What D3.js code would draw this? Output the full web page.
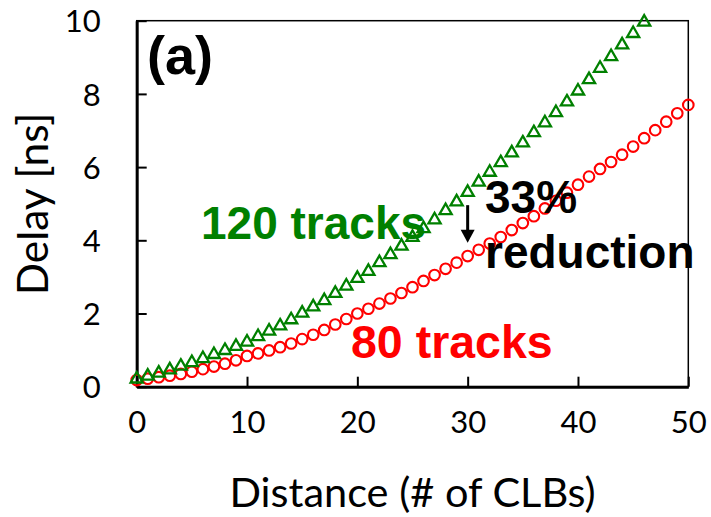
<!DOCTYPE html>
<html>
<head>
<meta charset="utf-8">
<script src="https://cdn.jsdelivr.net/npm/d3@7"></script>
<style>
  body { margin: 0; background: #fff; }
  svg { display: block; }
</style>
</head>
<body>
<div id="chart"></div>
<script>
// data
const distance = d3.range(0, 51)
const delay80 = [0.18, 0.22, 0.26, 0.30, 0.35, 0.41, 0.48, 0.55, 0.63, 0.72,
  0.84, 0.91, 0.99, 1.08, 1.18, 1.30, 1.42, 1.55, 1.70, 1.85,
  2.00, 2.13, 2.27, 2.41, 2.56, 2.72, 2.89, 3.05, 3.22, 3.39,
  3.57, 3.74, 3.91, 4.09, 4.28, 4.47, 4.66, 4.87, 5.08, 5.30,
  5.52, 5.74, 5.95, 6.14, 6.34, 6.56, 6.79, 7.01, 7.24, 7.47, 7.70]
const delay120 = [0.21, 0.29, 0.37, 0.46, 0.56, 0.66, 0.77, 0.88, 0.99, 1.10,
  1.22, 1.37, 1.52, 1.66, 1.83, 2.01, 2.18, 2.35, 2.55, 2.75,
  2.96, 3.15, 3.39, 3.61, 3.84, 4.08, 4.32, 4.56, 4.81, 5.05,
  5.31, 5.59, 5.86, 6.12, 6.39, 6.66, 6.94, 7.21, 7.49, 7.78,
  8.08, 8.39, 8.70, 9.02, 9.34, 9.65, 9.96]
const xTicks = [0, 10, 20, 30, 40, 50]
const yTicks = [0, 2, 4, 6, 8, 10]

const width = 711, height = 517
const margin = { top: 20.7, right: 22.7, bottom: 130.3, left: 136.7 }

const red = '#ff0000', green = '#008000'

const x = d3.scaleLinear().domain([0, 50]).range([margin.left, width - margin.right])
const y = d3.scaleLinear().domain([0, 10]).range([height - margin.bottom, margin.top])

const svg = d3.select('#chart').append('svg')
  .attr('width', width)
  .attr('height', height)

// frame
svg.append('rect')
  .attr('x', x(0)).attr('y', y(10))
  .attr('width', x(50) - x(0)).attr('height', y(0) - y(10))
  .attr('fill', 'none').attr('stroke', '#000').attr('stroke-width', 1.5)

// axes, ticks pointing inward
const xAxis = svg.append('g')
  .attr('transform', 'translate(0,' + y(0) + ')')
  .call(d3.axisBottom(x).tickValues(xTicks).tickSizeInner(-10).tickSizeOuter(0).tickPadding(24))
const yAxis = svg.append('g')
  .attr('transform', 'translate(' + x(0) + ',0)')
  .call(d3.axisLeft(y).tickValues(yTicks).tickSizeInner(-10).tickSizeOuter(0).tickPadding(36))

;[xAxis, yAxis].forEach(function (a) {
  a.select('.domain').attr('stroke', '#000').attr('stroke-width', 3)
  a.selectAll('.tick line').attr('stroke', '#000').attr('stroke-width', 2)
  a.selectAll('.tick text')
    .attr('fill', '#000')
    .style('font-family', 'Lato, "Open Sans", sans-serif')
    .style('font-size', '31px')
})
yAxis.selectAll('.tick text').attr('dy', '0.36em')

// axis titles
svg.append('text')
  .attr('x', (x(0) + x(50)) / 2)
  .attr('y', 507)
  .attr('text-anchor', 'middle')
  .style('font-family', 'Lato, "Open Sans", sans-serif')
  .style('font-size', '41.5px')
  .text('Distance (# of CLBs)')

svg.append('text')
  .attr('transform', 'translate(48,' + 204 + ') rotate(-90)')
  .attr('text-anchor', 'middle')
  .style('font-family', 'Lato, "Open Sans", sans-serif')
  .style('font-size', '42.5px')
  .text('Delay [ns]')

// series markers
const plot = svg.append('g')

plot.selectAll('.c80')
  .data(delay80)
  .enter().append('circle')
  .attr('class', 'c80')
  .attr('cx', function (d, i) { return x(distance[i]) })
  .attr('cy', function (d) { return y(d) })
  .attr('r', 5.3)
  .attr('fill', 'none')
  .attr('stroke', red)
  .attr('stroke-width', 2.1)

const tri = d3.symbol().type(d3.symbolTriangle).size(64)
plot.selectAll('.t120')
  .data(delay120)
  .enter().append('path')
  .attr('class', 't120')
  .attr('d', tri)
  .attr('transform', function (d, i) {
    return 'translate(' + x(distance[i]) + ',' + y(d) + ')'
  })
  .attr('fill', 'none')
  .attr('stroke', green)
  .attr('stroke-width', 2.3)

// annotations
const bold = 'Liberation Sans, Arial, sans-serif'

svg.append('text')
  .attr('x', 147).attr('y', 74)
  .style('font-family', bold).style('font-weight', 'bold').style('font-size', '54px')
  .text('(a)')

svg.append('text')
  .attr('x', 201).attr('y', 239)
  .attr('fill', green)
  .style('font-family', bold).style('font-weight', 'bold').style('font-size', '46px')
  .text('120 tracks')

svg.append('text')
  .attr('x', 351).attr('y', 358)
  .attr('fill', red)
  .style('font-family', bold).style('font-weight', 'bold').style('font-size', '46.5px')
  .text('80 tracks')

svg.append('text')
  .attr('x', 485).attr('y', 213)
  .style('font-family', bold).style('font-weight', 'bold').style('font-size', '46px')
  .text('33%')

svg.append('text')
  .attr('x', 485).attr('y', 268)
  .style('font-family', bold).style('font-weight', 'bold').style('font-size', '46px')
  .text('reduction')

// arrow from the 120 track curve down to the 80 track curve at 30 CLBs
const arrowX = x(30)
const arrowTop = y(4.96), arrowTip = y(3.93)
svg.append('line')
  .attr('x1', arrowX).attr('x2', arrowX)
  .attr('y1', arrowTop).attr('y2', arrowTip - 10)
  .attr('stroke', '#000').attr('stroke-width', 3)
svg.append('path')
  .attr('d', 'M' + (arrowX - 7) + ',' + (arrowTip - 13) + 'L' + (arrowX + 7) + ',' + (arrowTip - 13) + 'L' + arrowX + ',' + arrowTip + 'Z')
  .attr('fill', '#000')
</script>
</body>
</html>
